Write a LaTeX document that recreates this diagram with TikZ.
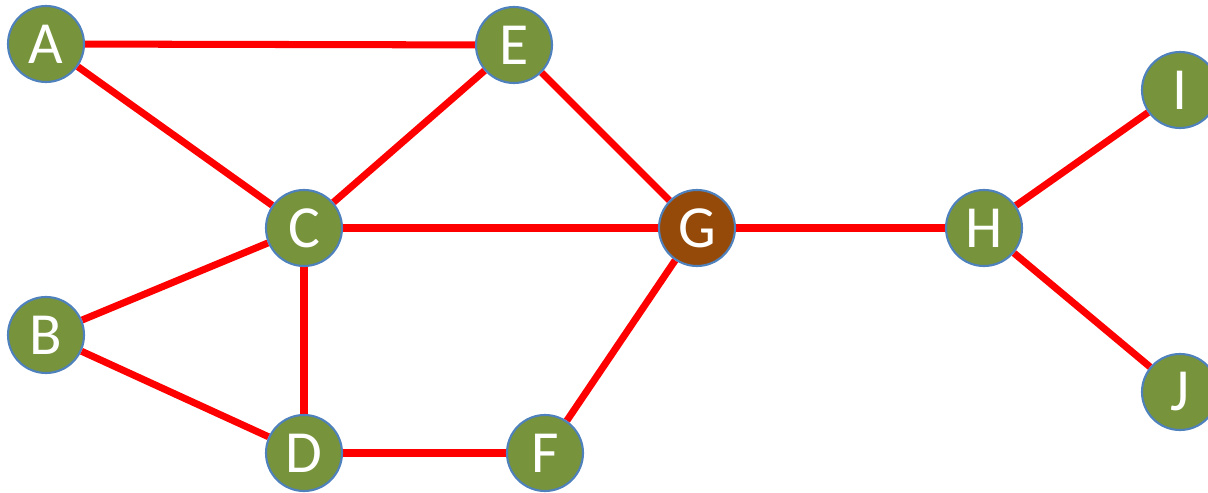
\documentclass[tikz,border=0pt]{standalone}
\usepackage{fontspec}
\setmainfont{Carlito}
\usepackage{tikz}
\usetikzlibrary{positioning,backgrounds}
\definecolor{olivegreen}{HTML}{77933C}
\definecolor{rustbrown}{HTML}{954A09}
\definecolor{rimblue}{HTML}{4F81BD}

\begin{document}
\begin{tikzpicture}[
  vert/.style={draw=rimblue, line width=1.2pt, circle, minimum size=1.52cm, inner sep=0pt, fill=olivegreen, text=white, font=\fontsize{34}{34}\selectfont},
  hub/.style={vert, fill=rustbrown},
  link/.style={draw=red, line width=4pt}
]
\useasboundingbox (0,0) rectangle (24.16,9.84);
\node[vert] (a) at (0.92,8.96) {A};
\node[vert] (e) at (10.28,8.94) {E};
\node[vert] (c) at (6.08,5.28) {C};
\node[hub]  (g) at (13.94,5.28) {G};
\node[vert] (h) at (19.68,5.28) {H};
\node[vert] (i) at (23.6,8.04) {I};
\node[vert] (j) at (23.6,2.0) {J};
\node[vert] (b) at (0.92,3.14) {B};
\node[vert] (d) at (6.08,0.78) {D};
\node[vert] (f) at (10.9,0.78) {F};

\begin{scope}[on background layer]
\draw[link] (a)--(e); \draw[link] (a)--(c); \draw[link] (e)--(c); \draw[link] (e)--(g);
\draw[link] (c)--(g); \draw[link] (c)--(b); \draw[link] (c)--(d); \draw[link] (b)--(d);
\draw[link] (d)--(f); \draw[link] (f)--(g); \draw[link] (g)--(h);
\draw[link] (h)--(i); \draw[link] (h)--(j);
\end{scope}
\end{tikzpicture}
\end{document}
